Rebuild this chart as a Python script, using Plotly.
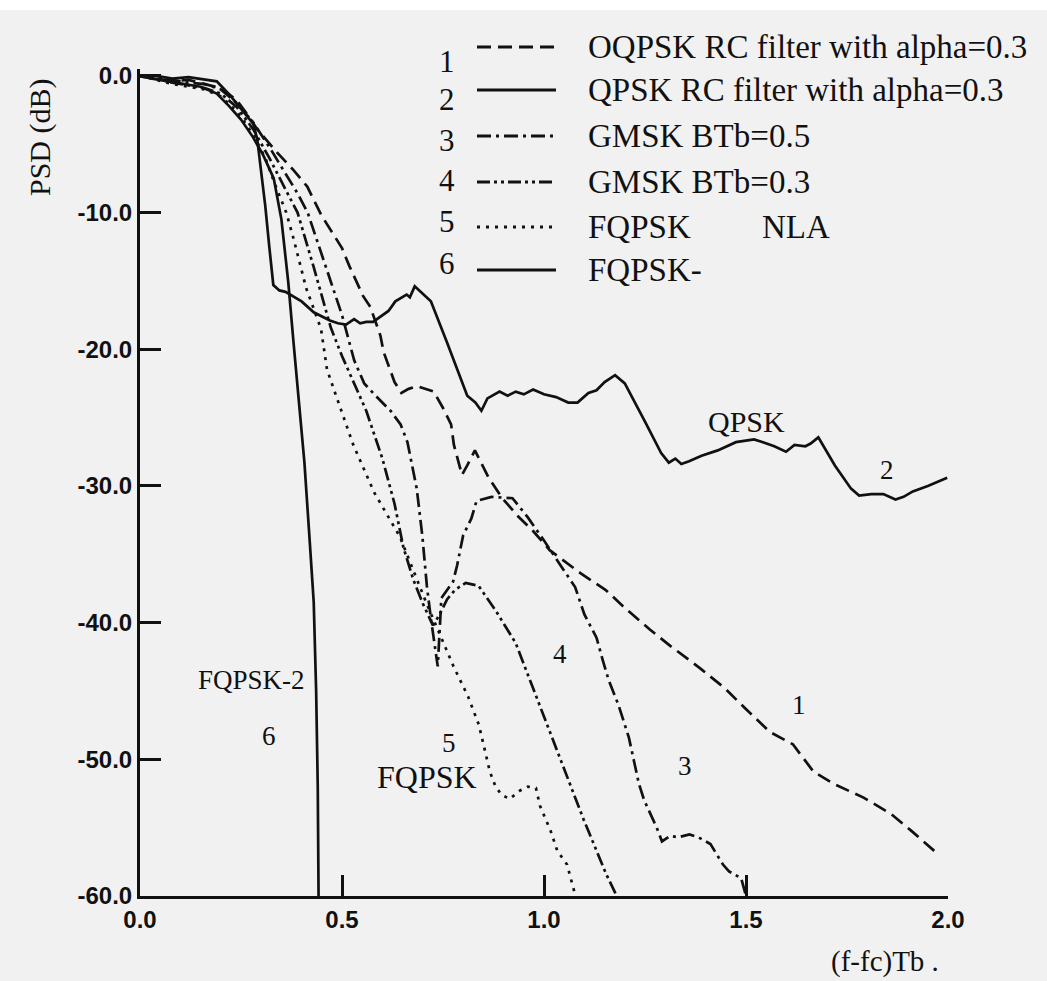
import plotly.graph_objects as go

# ---------------- data ----------------
x_tick_vals = [0.0, 0.5, 1.0, 1.5, 2.0]
x_tick_text = ["0.0", "0.5", "1.0", "1.5", "2.0"]
y_tick_vals = [0, -10, -20, -30, -40, -50, -60]
y_tick_text = ["0.0", "-10.0", "-20.0", "-30.0", "-40.0", "-50.0", "-60.0"]

legend_numbers = ["1", "2", "3", "4", "5", "6"]
legend_labels = ["OQPSK RC filter with alpha=0.3", "QPSK RC filter with alpha=0.3",
                 "GMSK BTb=0.5", "GMSK BTb=0.3", "FQPSK", "FQPSK-"]

# 1: OQPSK RC filter alpha=0.3 (dashed)
oqpsk_x = [0, 0.04, 0.08, 0.12, 0.16, 0.2, 0.24, 0.27, 0.29, 0.339, 0.38, 0.414, 0.449, 0.5,
           0.518, 0.552, 0.57, 0.595, 0.603, 0.63, 0.647, 0.665, 0.686, 0.727, 0.75, 0.77,
           0.777, 0.797, 0.81, 0.829, 0.863, 0.897, 0.935, 0.973, 1.014, 1.05, 1.091, 1.152,
           1.203, 1.262, 1.3125, 1.389, 1.4475, 1.499, 1.559, 1.616, 1.667, 1.717, 1.791,
           1.859, 1.908, 1.966]
oqpsk_y = [0, -0.2, -0.4, -0.3, -0.6, -0.9, -1.8, -3.0, -3.9, -5.6, -6.9, -8.1, -10.2, -12.6,
           -13.9, -16.1, -16.9, -19.0, -20.2, -22.4, -23.2, -22.9, -22.7, -23.1, -24.3, -25.5,
           -27.0, -29.2, -28.5, -27.4, -29.4, -30.9, -32.2, -33.3, -34.7, -35.5, -36.4, -37.6,
           -39.0, -40.5, -41.7, -43.4, -44.8, -46.3, -48.0, -48.9, -50.9, -51.8, -52.8,
           -54.0, -55.2, -56.7]

# 2: QPSK RC filter alpha=0.3 (solid)
qpsk_x = [0, 0.01, 0.04, 0.08, 0.12, 0.16, 0.19, 0.222, 0.25, 0.28, 0.29, 0.30, 0.31, 0.32,
          0.33, 0.345, 0.36, 0.40, 0.43, 0.47, 0.49, 0.51, 0.53, 0.545, 0.56, 0.577, 0.60,
          0.615, 0.632, 0.66, 0.668, 0.68, 0.72, 0.76, 0.81, 0.83, 0.845, 0.86, 0.89, 0.91,
          0.93, 0.95, 0.973, 1.0, 1.03, 1.06, 1.083, 1.11, 1.13, 1.15, 1.176, 1.2, 1.25,
          1.29, 1.309, 1.325, 1.34, 1.359, 1.39, 1.43, 1.475, 1.5, 1.52, 1.542, 1.57, 1.599,
          1.62, 1.647, 1.66, 1.679, 1.72, 1.76, 1.78, 1.81, 1.84, 1.87, 1.89, 1.913, 1.95,
          1.998]
qpsk_y = [0, -0.1, 0, -0.2, -0.1, -0.3, -0.4, -1.4, -2.4, -3.5, -4.6, -7.0, -9.5, -12.5,
          -15.3, -15.7, -15.8, -16.5, -17.3, -17.9, -18.1, -18.2, -17.8, -18.1, -18.0, -18.0,
          -17.5, -17.2, -16.5, -16.0, -16.2, -15.4, -16.5, -19.5, -23.4, -23.9, -24.5, -23.6,
          -23.1, -23.4, -23.1, -23.3, -22.95, -23.3, -23.5, -23.9, -23.9, -23.2, -23.0,
          -22.4, -21.9, -22.5, -25.3, -27.6, -28.3, -28.0, -28.4, -28.2, -27.8, -27.4, -26.8,
          -26.7, -26.6, -26.8, -27.1, -27.5, -27.0, -27.1, -26.9, -26.45, -28.5, -30.2,
          -30.7, -30.6, -30.6, -31.0, -30.8, -30.4, -30.0, -29.4]

# 3: GMSK BTb=0.5 (dash-dot)
gmsk05_x = [0, 0.04, 0.08, 0.12, 0.16, 0.2, 0.24, 0.28, 0.32, 0.36, 0.39, 0.415, 0.46, 0.5,
            0.53, 0.555, 0.58, 0.62, 0.645, 0.662, 0.685, 0.699, 0.71, 0.72, 0.737, 0.742,
            0.746, 0.775, 0.785, 0.8, 0.82, 0.833, 0.87, 0.922, 0.96, 1.0, 1.05, 1.077, 1.1,
            1.13, 1.145, 1.16, 1.184, 1.21, 1.235, 1.248, 1.279, 1.292, 1.312, 1.332, 1.36,
            1.382, 1.412, 1.443, 1.458, 1.488, 1.5]
gmsk05_y = [0, -0.1, -0.3, -0.5, -0.6, -1.0, -2.0, -3.4, -5.2, -7.2, -8.6, -10.0, -14.0,
            -17.5, -20.8, -22.5, -23.3, -24.5, -25.5, -26.8, -30.2, -33.7, -37.3, -39.7,
            -43.2, -40.5, -38.2, -37.0, -35.8, -33.6, -32.4, -31.1, -30.8, -30.9, -32.3,
            -34.0, -36.2, -37.4, -39.4, -41.1, -42.7, -44.2, -46.0, -48.4, -51.8, -53.0,
            -55.0, -56.0, -55.6, -55.7, -55.5, -55.7, -56.2, -57.7, -58.2, -58.7, -60.0]

# 4: GMSK BTb=0.3 (dash-dot-dot)
gmsk03_x = [0, 0.04, 0.08, 0.12, 0.16, 0.2, 0.24, 0.28, 0.32, 0.36, 0.39, 0.43, 0.472, 0.5,
            0.53, 0.56, 0.6, 0.63, 0.652, 0.677, 0.7, 0.725, 0.74, 0.76, 0.78, 0.806, 0.838,
            0.88, 0.93, 0.985, 1.042, 1.098, 1.154, 1.18]
gmsk03_y = [0, -0.2, -0.5, -0.7, -0.9, -1.3, -2.3, -3.9, -6.0, -8.3, -10.0, -14.0, -18.4,
            -20.5, -22.5, -24.5, -28.0, -31.3, -34.5, -36.9, -38.6, -40.2, -39.5, -38.3,
            -37.6, -37.1, -37.3, -39.1, -41.5, -45.7, -50.0, -54.4, -58.4, -60.0]

# 5: FQPSK NLA (dotted)
fqpsk_x = [0, 0.04, 0.08, 0.12, 0.16, 0.2, 0.24, 0.28, 0.31, 0.335, 0.362, 0.38, 0.411,
           0.448, 0.463, 0.483, 0.528, 0.58, 0.643, 0.708, 0.776, 0.812, 0.839, 0.866, 0.88,
           0.895, 0.915, 0.94, 0.96, 0.98, 0.99, 1.016, 1.033, 1.057, 1.078]
fqpsk_y = [0, -0.3, -0.6, -0.8, -1.0, -1.5, -2.6, -4.3, -6.0, -8.0, -10.0, -11.9, -15.5,
           -18.5, -21.5, -23.2, -27.0, -30.5, -33.7, -38.5, -43.2, -45.4, -47.5, -50.9, -52.0,
           -52.6, -52.9, -52.3, -52.0, -52.1, -53.4, -55.2, -56.7, -57.7, -60.0]

# 6: FQPSK-2 (solid)
fqpsk2_x = [0, 0.03, 0.07, 0.11, 0.15, 0.19, 0.22, 0.25, 0.28, 0.305, 0.331, 0.35, 0.367,
            0.38, 0.394, 0.407, 0.42, 0.43, 0.436, 0.44, 0.442]
fqpsk2_y = [0, -0.2, -0.4, -0.6, -0.8, -1.3, -2.2, -3.2, -4.5, -5.8, -7.5, -10.5, -15.1,
            -19.5, -23.9, -28.3, -34.0, -38.5, -45.0, -52.0, -60.0]

curves = [
    (oqpsk_x, oqpsk_y, "14px,7px"),
    (qpsk_x, qpsk_y, "solid"),
    (gmsk05_x, gmsk05_y, "14px,5px,3px,5px"),
    (gmsk03_x, gmsk03_y, "13px,4px,3px,4px,3px,4px"),
    (fqpsk_x, fqpsk_y, "3px,6px"),
    (fqpsk2_x, fqpsk2_y, "solid"),
]

INK = "#111111"
BG = "#f1f1f1"

fig = go.Figure()
for (xs, ys, dash), name in zip(curves, legend_labels):
    fig.add_trace(go.Scatter(x=xs, y=ys, mode="lines", name=name, showlegend=False,
                             line=dict(color=INK, width=2.7, dash=dash)))

# plot geometry (pixels)
L, R, T, B = 140, 99, 69, 85
W, H = 1047, 981
PW, PH = W - L - R, H - T - B


def px(xp):
    return (xp - L) / PW


def py(yp):
    return (H - B - yp) / PH


serif = "Liberation Serif"
sans = "Liberation Sans"

annotations = []
shapes = []

# legend (manual, like the original figure)
num_y = [62, 100, 140, 181, 222, 263]
row_y = [47, 90, 136, 182, 227, 270]
for i in range(6):
    annotations.append(dict(xref="paper", yref="paper", x=px(447), y=py(num_y[i]),
                            text=legend_numbers[i], showarrow=False, xanchor="center",
                            yanchor="middle", font=dict(family=serif, size=31, color=INK)))
    annotations.append(dict(xref="paper", yref="paper", x=px(586), y=py(row_y[i]),
                            text=legend_labels[i], showarrow=False, xanchor="left",
                            yanchor="middle", font=dict(family=serif, size=33, color=INK)))
    shapes.append(dict(type="line", xref="paper", yref="paper", x0=px(477), x1=px(556),
                       y0=py(row_y[i]), y1=py(row_y[i]),
                       line=dict(color=INK, width=3, dash=curves[i][2])))
annotations.append(dict(xref="paper", yref="paper", x=px(760), y=py(row_y[4]), text="NLA",
                        showarrow=False, xanchor="left", yanchor="middle",
                        font=dict(family=serif, size=33, color=INK)))

# curve labels
for txt, xx, yy, sz in [("QPSK", 1.5, -25.3, 30), ("2", 1.85, -28.8, 27), ("1", 1.63, -46.0, 27),
                        ("3", 1.35, -50.5, 27), ("4", 1.04, -42.3, 27), ("5", 0.765, -48.8, 27),
                        ("FQPSK", 0.71, -51.3, 32), ("FQPSK-2", 0.275, -44.2, 27),
                        ("6", 0.32, -48.3, 27)]:
    annotations.append(dict(x=xx, y=yy, xref="x", yref="y", text=txt, showarrow=False,
                            xanchor="center", yanchor="middle",
                            font=dict(family=serif, size=sz, color=INK)))

# axis titles
annotations.append(dict(xref="paper", yref="paper", x=px(40), y=py(137), text="PSD (dB)",
                        textangle=-90, showarrow=False, xanchor="center", yanchor="middle",
                        font=dict(family=serif, size=30, color=INK)))
annotations.append(dict(xref="paper", yref="paper", x=px(885), y=py(961), text="(f-fc)Tb .",
                        showarrow=False, xanchor="center", yanchor="middle",
                        font=dict(family=serif, size=29, color=INK)))

# white strip at the very top of the scan
shapes.append(dict(type="rect", xref="paper", yref="paper", x0=px(0), x1=px(W),
                   y0=py(10), y1=py(0), fillcolor="#ffffff", line=dict(width=0), layer="below"))

axis_common = dict(showline=True, linewidth=3, linecolor=INK, ticks="inside", ticklen=21,
                   tickwidth=2.5, tickcolor=INK, showgrid=False, zeroline=False, mirror=False,
                   tickfont=dict(family=sans, size=24, color=INK, weight="bold"))

fig.update_layout(
    width=W, height=H, autosize=False,
    margin=dict(l=L, r=R, t=T, b=B, pad=0),
    paper_bgcolor=BG, plot_bgcolor=BG,
    xaxis=dict(range=[0, 2.0], tickvals=x_tick_vals, ticktext=x_tick_text, **axis_common),
    yaxis=dict(range=[-60, 0.5], tickvals=y_tick_vals, ticktext=y_tick_text, **axis_common),
    annotations=annotations, shapes=shapes, showlegend=False,
)

fig.write_html("out.html")
